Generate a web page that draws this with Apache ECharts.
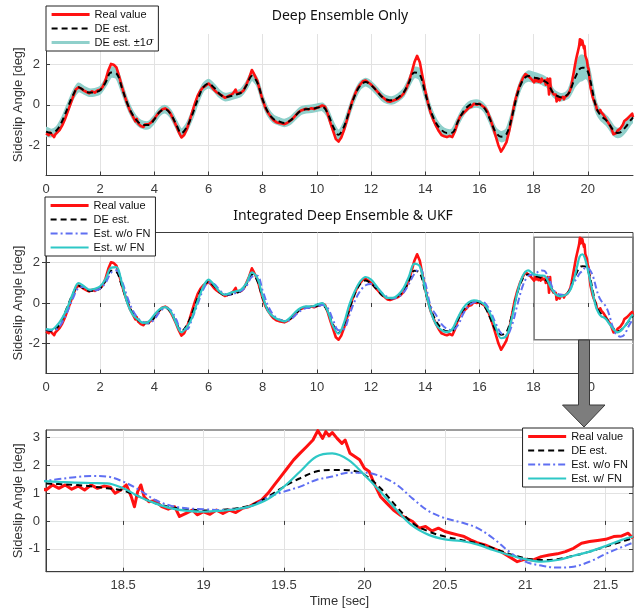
<!DOCTYPE html>
<html>
<head>
<meta charset="utf-8">
<script src="https://cdn.jsdelivr.net/npm/echarts@6/dist/echarts.min.js"></script>
<style>
  html, body { margin: 0; padding: 0; background: #ffffff; }
  #chart { width: 643px; height: 611px; }
</style>
</head>
<body>
<div id="chart"></div>
<script>
// Sample times [sec] shared by the estimator traces
const estTime = [
  0, 0.2, 0.4, 0.6, 0.8, 1, 1.2, 1.4, 1.6, 1.8,
  2, 2.2, 2.4, 2.6, 2.8, 3, 3.2, 3.4, 3.6, 3.8,
  4, 4.2, 4.4, 4.6, 4.8, 5, 5.2, 5.4, 5.6, 5.8,
  6, 6.2, 6.4, 6.6, 6.8, 7, 7.2, 7.4, 7.6, 7.8,
  8, 8.2, 8.4, 8.6, 8.8, 9, 9.2, 9.4, 9.6, 9.8,
  10, 10.2, 10.4, 10.6, 10.8, 11, 11.2, 11.4, 11.6, 11.8,
  12, 12.2, 12.4, 12.6, 12.8, 13, 13.2, 13.4, 13.6, 13.8,
  14, 14.2, 14.4, 14.6, 14.8, 15, 15.2, 15.4, 15.6, 15.8,
  16, 16.2, 16.4, 16.6, 16.8, 17, 17.2, 17.4, 17.6, 17.8,
  18, 18.1, 18.2, 18.3, 18.4, 18.5, 18.6, 18.7, 18.8, 18.9,
  19, 19.1, 19.2, 19.3, 19.4, 19.5, 19.6, 19.7, 19.8, 19.9,
  20, 20.1, 20.2, 20.3, 20.4, 20.5, 20.6, 20.7, 20.8, 20.9,
  21, 21.1, 21.2, 21.3, 21.4, 21.5, 21.6, 21.67
];

// Deep-ensemble mean estimate [deg]
const deEst = [
  -1.33, -1.4, -1.25, -0.8, -0.15, 0.48, 0.86, 0.72, 0.6, 0.62,
  0.72, 1.1, 1.6, 1.55, 0.85, 0.07, -0.5, -0.85, -1.0, -1.0,
  -0.72, -0.35, -0.22, -0.45, -0.95, -1.41, -1.1, -0.5, 0.25, 0.85,
  1.05, 0.85, 0.55, 0.38, 0.42, 0.5, 0.6, 0.95, 1.42, 1.1,
  0.25, -0.38, -0.7, -0.82, -0.9, -0.8, -0.55, -0.3, -0.22, -0.2,
  -0.15, -0.1, -0.42, -1.08, -1.49, -1.08, -0.3, 0.45, 0.95, 1.12,
  0.97, 0.7, 0.4, 0.25, 0.22, 0.36, 0.6, 1.1, 1.6, 1.5,
  0.56, -0.3, -0.9, -1.25, -1.4, -1.38, -0.85, -0.35, -0.05, 0.05,
  0.03, -0.2, -0.75, -1.35, -1.58, -1.45, -0.6, 0.5, 1.2, 1.42,
  1.35, 1.32, 1.29, 1.24, 1.17, 1.09, 0.87, 0.63, 0.49, 0.42,
  0.37, 0.39, 0.45, 0.57, 0.87, 1.23, 1.53, 1.77, 1.83, 1.82,
  1.65, 1.17, 0.51, -0.08, -0.38, -0.56, -0.68, -0.8, -0.98, -1.18,
  -1.34, -1.4, -1.37, -1.25, -1.1, -0.92, -0.74, -0.62
];

// Ensemble standard deviation [deg]
const deSigma = [
  0.18, 0.15, 0.15, 0.15, 0.15, 0.15, 0.18, 0.15, 0.15, 0.15,
  0.15, 0.15, 0.22, 0.22, 0.18, 0.15, 0.15, 0.15, 0.15, 0.15,
  0.15, 0.15, 0.15, 0.15, 0.15, 0.18, 0.15, 0.15, 0.15, 0.15,
  0.18, 0.15, 0.15, 0.15, 0.15, 0.15, 0.15, 0.15, 0.18, 0.15,
  0.15, 0.15, 0.15, 0.15, 0.15, 0.15, 0.15, 0.15, 0.15, 0.15,
  0.15, 0.15, 0.15, 0.18, 0.2, 0.18, 0.15, 0.15, 0.15, 0.15,
  0.15, 0.15, 0.15, 0.15, 0.15, 0.15, 0.15, 0.15, 0.22, 0.25,
  0.18, 0.15, 0.15, 0.15, 0.15, 0.15, 0.15, 0.15, 0.15, 0.15,
  0.15, 0.15, 0.15, 0.18, 0.22, 0.22, 0.18, 0.15, 0.18, 0.22,
  0.22, 0.22, 0.2, 0.2, 0.2, 0.18, 0.18, 0.15, 0.15, 0.15,
  0.15, 0.15, 0.15, 0.18, 0.25, 0.35, 0.48, 0.58, 0.6, 0.5,
  0.38, 0.28, 0.22, 0.2, 0.2, 0.2, 0.2, 0.2, 0.2, 0.2,
  0.2, 0.2, 0.2, 0.2, 0.2, 0.18, 0.18, 0.18
];

// UKF estimate with the feedback network [deg]
const estWithFN = [
  -1.29, -1.32, -1.12, -0.75, -0.2, 0.5, 0.99, 0.83, 0.66, 0.71,
  0.83, 1.19, 1.75, 1.78, 0.99, 0.0, -0.58, -0.83, -0.99, -0.91,
  -0.58, -0.3, -0.2, -0.41, -0.99, -1.45, -1.2, -0.7, 0.1, 0.8,
  1.16, 0.91, 0.58, 0.41, 0.5, 0.58, 0.66, 0.99, 1.52, 1.24,
  0.33, -0.41, -0.69, -0.83, -0.91, -0.74, -0.46, -0.25, -0.17, -0.17,
  -0.08, 0.0, -0.41, -1.16, -1.52, -0.99, -0.08, 0.58, 1.07, 1.29,
  1.16, 0.83, 0.5, 0.25, 0.25, 0.41, 0.74, 1.32, 1.95, 1.82,
  0.66, -0.41, -1.07, -1.35, -1.45, -1.29, -0.74, -0.25, 0.03, 0.13,
  0.08, -0.1, -0.55, -1.2, -1.75, -1.63, -0.73, 0.51, 1.34, 1.62,
  1.43, 1.4, 1.37, 1.36, 1.35, 1.17, 0.87, 0.63, 0.45, 0.36,
  0.33, 0.36, 0.42, 0.54, 0.78, 1.23, 1.77, 2.3, 2.42, 2.19,
  1.65, 1.05, 0.39, -0.18, -0.5, -0.66, -0.72, -0.84, -1.04, -1.22,
  -1.37, -1.46, -1.4, -1.25, -1.1, -0.9, -0.68, -0.56
];

// UKF estimate without the feedback network [deg]
const estWithoutFN = [
  -1.3, -1.35, -1.3, -0.95, -0.4, 0.25, 0.75, 0.8, 0.65, 0.62,
  0.72, 1.0, 1.5, 1.62, 1.1, 0.3, -0.35, -0.75, -0.95, -1.0,
  -0.8, -0.45, -0.25, -0.35, -0.8, -1.3, -1.3, -0.75, -0.05, 0.65,
  1.0, 0.95, 0.65, 0.45, 0.42, 0.5, 0.6, 0.85, 1.3, 1.35,
  0.6, -0.15, -0.6, -0.8, -0.9, -0.85, -0.62, -0.38, -0.25, -0.22,
  -0.15, -0.1, -0.25, -0.85, -1.35, -1.3, -0.6, 0.1, 0.6, 0.88,
  0.94, 0.79, 0.5, 0.3, 0.22, 0.3, 0.52, 0.95, 1.45, 1.72,
  1.0, -0.15, -0.6, -1.05, -1.28, -1.35, -1.12, -0.55, -0.15, 0.03,
  0.08, 0.0, -0.4, -1.0, -1.5, -1.62, -1.1, -0.1, 0.85, 1.35,
  1.43, 1.5, 1.57, 1.61, 1.59, 1.41, 1.11, 0.75, 0.54, 0.45,
  0.42, 0.39, 0.42, 0.54, 0.85, 1.05, 1.23, 1.47, 1.59, 1.73,
  1.73, 1.6, 1.3, 0.8, 0.35, 0.1, -0.05, -0.25, -0.62, -1.1,
  -1.46, -1.6, -1.67, -1.64, -1.46, -1.18, -0.94, -0.78
];

// Measured sideslip angle: [time sec, angle deg]
const realValue = [
  [0, -1.42], [0.1, -1.5], [0.15, -1.38], [0.2, -1.47], [0.3, -1.6], [0.35, -1.45], [0.4, -1.38], [0.5, -1.25],
  [0.6, -1.02], [0.7, -0.72], [0.8, -0.35], [0.9, 0.02], [1.0, 0.4], [1.1, 0.75], [1.2, 0.86], [1.3, 0.8],
  [1.35, 0.84], [1.4, 0.7], [1.5, 0.63], [1.6, 0.57], [1.7, 0.66], [1.8, 0.6], [1.9, 0.7], [2.0, 0.74],
  [2.1, 0.9], [2.2, 1.22], [2.3, 1.7], [2.4, 2.02], [2.45, 1.94], [2.5, 1.98], [2.6, 1.85], [2.7, 1.4],
  [2.8, 0.9], [2.9, 0.45], [3.0, 0.05], [3.1, -0.3], [3.2, -0.55], [3.3, -0.82], [3.35, -0.7], [3.4, -0.92],
  [3.5, -1.05], [3.6, -1.1], [3.65, -0.98], [3.7, -1.06], [3.8, -0.95], [3.9, -0.85], [4.0, -0.7], [4.1, -0.5],
  [4.2, -0.35], [4.3, -0.22], [4.4, -0.18], [4.5, -0.26], [4.6, -0.45], [4.7, -0.72], [4.8, -1.02], [4.9, -1.35],
  [5.0, -1.62], [5.05, -1.55], [5.1, -1.5], [5.2, -1.2], [5.3, -0.8], [5.4, -0.35], [5.5, 0.08], [5.6, 0.45],
  [5.7, 0.7], [5.8, 0.86], [5.9, 0.95], [6.0, 1.05], [6.1, 0.92], [6.2, 0.74], [6.3, 0.62], [6.4, 0.53],
  [6.5, 0.45], [6.6, 0.35], [6.7, 0.4], [6.8, 0.47], [6.9, 0.55], [7.0, 0.75], [7.05, 0.55], [7.1, 0.58],
  [7.2, 0.6], [7.3, 0.72], [7.4, 1.0], [7.5, 1.32], [7.6, 1.72], [7.65, 1.6], [7.7, 1.55], [7.8, 1.18],
  [7.9, 0.7], [8.0, 0.22], [8.1, -0.15], [8.2, -0.4], [8.3, -0.6], [8.4, -0.76], [8.5, -0.86], [8.6, -0.9],
  [8.7, -0.93], [8.8, -0.96], [8.9, -0.9], [9.0, -0.8], [9.1, -0.7], [9.2, -0.55], [9.3, -0.4], [9.4, -0.3],
  [9.5, -0.25], [9.6, -0.2], [9.7, -0.23], [9.8, -0.17], [9.9, -0.21], [10.0, -0.15], [10.1, -0.1], [10.2, -0.04],
  [10.3, -0.1], [10.4, -0.45], [10.5, -0.9], [10.6, -1.3], [10.7, -1.7], [10.8, -1.82], [10.9, -1.62], [11.0, -1.25],
  [11.1, -0.8], [11.2, -0.3], [11.3, 0.15], [11.4, 0.5], [11.5, 0.8], [11.6, 1.0], [11.7, 1.16], [11.8, 1.2],
  [11.9, 1.1], [12.0, 1.0], [12.1, 0.86], [12.2, 0.7], [12.3, 0.55], [12.4, 0.4], [12.5, 0.3], [12.6, 0.18],
  [12.7, 0.15], [12.8, 0.2], [12.9, 0.25], [13.0, 0.3], [13.1, 0.4], [13.2, 0.55], [13.3, 0.8], [13.4, 1.15],
  [13.5, 1.6], [13.6, 2.1], [13.7, 2.42], [13.8, 2.1], [13.9, 1.4], [14.0, 0.7], [14.1, 0.1], [14.2, -0.4],
  [14.3, -0.75], [14.4, -1.05], [14.5, -1.3], [14.6, -1.5], [14.7, -1.56], [14.8, -1.6], [14.9, -1.54], [15.0, -1.6],
  [15.1, -1.3], [15.2, -0.85], [15.3, -0.55], [15.4, -0.42], [15.5, -0.3], [15.6, -0.15], [15.7, -0.1], [15.8, 0.05],
  [15.9, 0.0], [16.0, 0.05], [16.1, -0.05], [16.2, -0.15], [16.3, -0.35], [16.4, -0.7], [16.5, -1.1], [16.6, -1.55],
  [16.7, -2.0], [16.8, -2.32], [16.9, -2.1], [17.0, -1.85], [17.1, -1.3], [17.2, -0.6], [17.3, 0.1], [17.4, 0.6],
  [17.5, 1.0], [17.6, 1.3], [17.7, 1.52], [17.8, 1.42], [17.9, 1.3],
  [18.02, 1.11], [18.06, 1.29], [18.1, 1.17], [18.14, 1.29], [18.18, 1.14], [18.22, 1.25], [18.26, 1.11], [18.3, 1.29],
  [18.34, 1.17], [18.38, 1.25], [18.42, 1.21], [18.45, 0.99], [18.48, 1.09], [18.52, 1.29], [18.55, 0.87], [18.57, 0.51],
  [18.59, 1.05], [18.61, 1.29], [18.63, 0.87], [18.66, 0.69], [18.7, 0.73], [18.74, 0.51], [18.78, 0.42], [18.82, 0.51],
  [18.85, 0.16], [18.89, 0.27], [18.93, 0.39], [18.96, 0.22], [19.0, 0.33], [19.04, 0.24], [19.08, 0.39], [19.12, 0.27],
  [19.16, 0.39], [19.2, 0.3], [19.24, 0.45], [19.28, 0.51], [19.32, 0.63], [19.36, 0.75], [19.4, 0.99], [19.44, 1.29],
  [19.48, 1.59], [19.52, 1.89], [19.56, 2.19], [19.6, 2.43], [19.64, 2.66], [19.68, 2.9], [19.71, 3.24], [19.74, 2.96],
  [19.76, 3.2], [19.78, 3.05], [19.8, 3.17], [19.83, 2.96], [19.86, 2.78], [19.88, 2.9], [19.91, 2.43], [19.94, 2.31],
  [19.97, 2.19], [20.0, 1.89], [20.03, 1.77], [20.06, 1.35], [20.1, 0.87], [20.14, 0.63], [20.18, 0.39], [20.22, 0.22],
  [20.26, 0.1], [20.3, -0.02], [20.34, -0.26], [20.38, -0.2], [20.42, -0.36], [20.46, -0.26], [20.5, -0.38], [20.54, -0.44],
  [20.58, -0.5], [20.62, -0.56], [20.66, -0.68], [20.7, -0.78], [20.75, -0.86], [20.8, -0.98], [20.85, -1.1], [20.9, -1.28],
  [20.95, -1.46], [21.0, -1.37], [21.05, -1.4], [21.1, -1.28], [21.15, -1.22], [21.2, -1.18], [21.25, -1.1], [21.3, -0.98],
  [21.35, -0.8], [21.4, -0.74], [21.45, -0.7], [21.5, -0.66], [21.55, -0.56], [21.6, -0.54], [21.64, -0.44], [21.67, -0.62]
];

// Tick positions
const fullXTicks = [0, 2, 4, 6, 8, 10, 12, 14, 16, 18, 20];
const fullYTicks = [-2, 0, 2];
const zoomXTicks = [18.5, 19, 19.5, 20, 20.5, 21, 21.5];
const zoomYTicks = [-1, 0, 1, 2, 3];

// Axis extents of the full-run panels and of the enlarged window
const fullRange = { xMin: 0, xMax: 21.67, yMin: -3.5, yMax: 3.5 };
const zoomRange = { xMin: 18.02, xMax: 21.67, yMin: -1.82, yMax: 3.26 };

const nameReal = 'Real value';
const nameDE = 'DE est.';
const nameBand = 'DE est. \u00b11\u03c3';
const nameNoFN = 'Est. w/o FN';
const nameFN = 'Est. w/ FN';

const FONT = '"Liberation Sans", Arial, sans-serif';
const AXIS_COLOR = '#3c3c3c';
const LABEL_COLOR = '#3a3a3a';
const GRID_COLOR = '#e2e2e2';
const RED = '#ff1111';
const TEAL_BAND = '#8fd0cb';
const BLUE = '#5f6ff2';
const CYAN = '#2ec8c6';

const pairs = (times, values) => times.map((t, i) => [t, values[i]]);

const GRIDS = [
  { left: 46, top: 34, width: 587, height: 141.5 },
  { left: 46, top: 232.5, width: 587, height: 141 },
  { left: 46, top: 430, width: 587, height: 141.7 }
];

function mainX(grid, range, ticks, withName) {
  return {
    type: 'value', gridIndex: grid, min: range.xMin, max: range.xMax,
    position: 'bottom',
    name: withName ? 'Time [sec]' : '',
    nameLocation: 'middle', nameGap: 23, nameMoveOverlap: false,
    nameTextStyle: { fontFamily: FONT, fontSize: 13, color: '#333' },
    axisLine: { show: true, onZero: false, lineStyle: { color: AXIS_COLOR, width: 1 } },
    axisTick: { show: true, inside: true, length: 4, customValues: ticks, lineStyle: { color: AXIS_COLOR } },
    axisLabel: { show: true, customValues: ticks, margin: 7, color: LABEL_COLOR, fontFamily: FONT, fontSize: 13,
      formatter: v => String(v) },
    splitLine: { show: true, lineStyle: { color: GRID_COLOR, width: 1 } }
  };
}

function mainY(grid, range, ticks) {
  return {
    type: 'value', gridIndex: grid, min: range.yMin, max: range.yMax,
    position: 'left',
    name: 'Sideslip Angle [deg]',
    nameLocation: 'middle', nameGap: 21, nameMoveOverlap: false,
    nameTextStyle: { fontFamily: FONT, fontSize: 13, color: '#333' },
    axisLine: { show: true, onZero: false, lineStyle: { color: AXIS_COLOR, width: 1 } },
    axisTick: { show: true, inside: true, length: 4, customValues: ticks, lineStyle: { color: AXIS_COLOR } },
    axisLabel: { show: true, customValues: ticks, margin: 6, color: LABEL_COLOR, fontFamily: FONT, fontSize: 13,
      formatter: v => String(v) },
    splitLine: { show: true, lineStyle: { color: GRID_COLOR, width: 1 } }
  };
}

// Mirror axes giving the boxed panels their inner ticks on top and right
function mirrorX(grid, range, ticks) {
  return {
    type: 'value', gridIndex: grid, min: range.xMin, max: range.xMax, position: 'top',
    axisLine: { show: false },
    axisTick: { show: true, inside: true, length: 4, customValues: ticks, lineStyle: { color: AXIS_COLOR } },
    axisLabel: { show: false }, splitLine: { show: false }
  };
}
function mirrorY(grid, range, ticks) {
  return {
    type: 'value', gridIndex: grid, min: range.yMin, max: range.yMax, position: 'right',
    axisLine: { show: false },
    axisTick: { show: true, inside: true, length: 4, customValues: ticks, lineStyle: { color: AXIS_COLOR } },
    axisLabel: { show: false }, splitLine: { show: false }
  };
}

const lineBase = { type: 'line', symbol: 'none', showSymbol: false, silent: true };

function realSeries(ax, width) {
  return Object.assign({}, lineBase, {
    name: nameReal, xAxisIndex: ax, yAxisIndex: ax, data: realValue,
    lineStyle: { color: RED, width: width, join: 'round' }, itemStyle: { color: RED }
  });
}
function deSeries(ax, extra) {
  return Object.assign({}, lineBase, {
    name: nameDE, xAxisIndex: ax, yAxisIndex: ax, data: pairs(estTime, deEst), smooth: 0.35,
    lineStyle: { color: '#000000', width: 2, type: [6, 4] }, itemStyle: { color: '#000000' }
  }, extra || {});
}
function noFNSeries(ax) {
  return Object.assign({}, lineBase, {
    name: nameNoFN, xAxisIndex: ax, yAxisIndex: ax, data: pairs(estTime, estWithoutFN), smooth: 0.35,
    lineStyle: { color: BLUE, width: 2, type: [7, 3, 2, 3] }, itemStyle: { color: BLUE }
  });
}
function fnSeries(ax) {
  return Object.assign({}, lineBase, {
    name: nameFN, xAxisIndex: ax, yAxisIndex: ax, data: pairs(estTime, estWithFN), smooth: 0.35,
    lineStyle: { color: CYAN, width: 2.2 }, itemStyle: { color: CYAN }
  });
}

// ±1σ band of the ensemble, drawn as one closed polygon through the axis scales
function bandSeries(ax) {
  return {
    type: 'custom', name: nameBand, xAxisIndex: ax, yAxisIndex: ax,
    clip: true, silent: true, data: [0],
    itemStyle: { color: TEAL_BAND },
    renderItem: (params, api) => {
      const upper = estTime.map((t, i) => api.coord([t, deEst[i] + deSigma[i]]));
      const lower = estTime.map((t, i) => api.coord([t, deEst[i] - deSigma[i]])).reverse();
      return {
        type: 'polygon',
        shape: { points: upper.concat(lower), smooth: 0.25 },
        style: { fill: TEAL_BAND, stroke: TEAL_BAND, lineWidth: 2.5, lineJoin: 'round' }
      };
    }
  };
}

function legendFor(names, pos) {
  return Object.assign({
    orient: 'vertical', selectedMode: false,
    data: names.map(n => {
      if (n === nameBand) {
        return { name: n, icon: 'path://M0,0 L38,0 L38,3 L0,3 Z', itemStyle: { color: TEAL_BAND, opacity: 1 } };
      }
      return {
        name: n,
        itemStyle: { opacity: 0 },
        lineStyle: n === nameReal ? { width: 3.2 } : { width: 2.2 }
      };
    }),
    itemWidth: 38, itemHeight: 12, itemGap: 3,
    padding: [3, 5, 3, 4],
    borderColor: '#222', borderWidth: 1, borderRadius: 0,
    backgroundColor: '#ffffff',
    textStyle: {
      fontFamily: FONT, fontSize: 11, color: '#111',
      rich: { s: { fontFamily: '"DejaVu Serif", serif', fontStyle: 'italic', fontSize: 11, color: '#111' } }
    },
    formatter: n => (n === nameBand ? 'DE est. \u00b11{s|\u03c3}' : n)
  }, pos);
}

const chart = echarts.init(document.getElementById('chart'), null, { renderer: 'canvas' });

const gridBase = { outerBoundsMode: 'none', containLabel: false };

chart.setOption({
  animation: false,
  backgroundColor: '#ffffff',
  grid: [
    Object.assign({ show: false }, gridBase, GRIDS[0]),
    Object.assign({ show: true, borderColor: AXIS_COLOR, borderWidth: 1, backgroundColor: 'transparent' }, gridBase, GRIDS[1]),
    Object.assign({ show: true, borderColor: AXIS_COLOR, borderWidth: 1, backgroundColor: 'transparent' }, gridBase, GRIDS[2])
  ],
  xAxis: [
    mainX(0, fullRange, fullXTicks, false),
    mainX(1, fullRange, fullXTicks, false),
    mainX(2, zoomRange, zoomXTicks, true),
    mirrorX(1, fullRange, fullXTicks),
    mirrorX(2, zoomRange, zoomXTicks)
  ],
  yAxis: [
    mainY(0, fullRange, fullYTicks),
    mainY(1, fullRange, fullYTicks),
    mainY(2, zoomRange, zoomYTicks),
    mirrorY(1, fullRange, fullYTicks),
    mirrorY(2, zoomRange, zoomYTicks)
  ],
  legend: [
    legendFor([nameReal, nameDE, nameBand], { left: 46, top: 6 }),
    legendFor([nameReal, nameDE, nameNoFN, nameFN], { left: 45, top: 197 }),
    legendFor([nameReal, nameDE, nameNoFN, nameFN], { right: 10, top: 428 })
  ],
  graphic: [
    { type: 'text', x: 340, y: 16, silent: true,
      style: { text: 'Deep Ensemble Only', font: '14px "Noto Sans", sans-serif', fill: '#111', align: 'center', verticalAlign: 'middle' } },
    { type: 'text', x: 343, y: 216, silent: true,
      style: { text: 'Integrated Deep Ensemble & UKF', font: '14px "Noto Sans", sans-serif', fill: '#111', align: 'center', verticalAlign: 'middle' } },
    // arrow pointing from the marked window down to the enlarged panel
    { type: 'polygon', silent: true, z: 100,
      shape: { points: [[578.5, 340], [589.5, 340], [589.5, 405], [605, 405], [584, 427], [562.5, 405], [578.5, 405]] },
      style: { fill: '#7d7d7d', stroke: '#3a3a3a', lineWidth: 1 } }
  ],
  series: [
    // Panel 1: deep ensemble with its ±1σ band
    bandSeries(0),
    realSeries(0, 2.6),
    deSeries(0),

    // Panel 2: integrated estimator over the whole run
    realSeries(1, 2.6),
    deSeries(1, {
      markArea: {
        silent: true,
        itemStyle: { color: 'rgba(0,0,0,0)', borderColor: '#7a7a7a', borderWidth: 1.5 },
        data: [[{ coord: [zoomRange.xMin, zoomRange.yMax] }, { coord: [zoomRange.xMax, zoomRange.yMin] }]]
      }
    }),
    noFNSeries(1),
    fnSeries(1),

    // Panel 3: enlarged window
    realSeries(2, 3),
    deSeries(2),
    noFNSeries(2),
    fnSeries(2)
  ]
});
</script>
</body>
</html>
